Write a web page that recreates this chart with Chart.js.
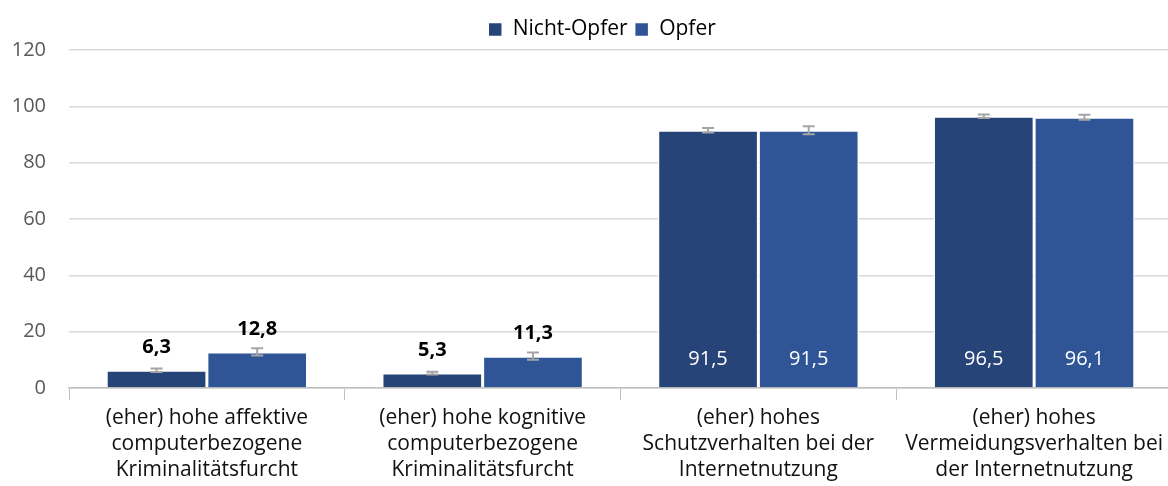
<!DOCTYPE html>
<html>
<head>
<meta charset="utf-8">
<script src="https://cdn.jsdelivr.net/npm/chart.js@4"></script>
<style>
  html, body { margin: 0; padding: 0; background: #fff; overflow: hidden; }
  #wrap { width: 1176px; height: 486px; }
</style>
</head>
<body>
<div id="wrap"><canvas id="c"></canvas></div>
<script>
// categories (multi-line labels)
const categories = [
    ['(eher) hohe affektive', 'computerbezogene', 'Kriminalitätsfurcht'],
    ['(eher) hohe kognitive', 'computerbezogene', 'Kriminalitätsfurcht'],
    ['(eher) hohes', 'Schutzverhalten bei der', 'Internetnutzung'],
    ['(eher) hohes', 'Vermeidungsverhalten bei', 'der Internetnutzung']
];
const seriesNames = ['Nicht-Opfer', 'Opfer'];
const nichtOpfer = [6.3, 5.3, 91.5, 96.5];
const opfer = [12.8, 11.3, 91.5, 96.1];
// half-length of the error bars (estimated)
const nichtOpferErr = [0.6, 0.5, 0.8, 0.6];
const opferErr = [1.3, 1.3, 1.4, 0.9];
const yTicks = [0, 20, 40, 60, 80, 100, 120];

const FONT = '"Open Sans", Lato, sans-serif';
const fmt = v => v.toFixed(1).replace('.', ',');

// draws error bars and value labels from the data
const barExtras = {
    id: 'barExtras',
    afterLayout(chart) {
        // legend sits a bit right of the canvas centre in the original
        if (chart.legend) {
            chart.legend.left += 16;
            chart.legend.right += 16;
        }
    },
    afterDatasetsDraw(chart) {
        const ctx = chart.ctx;
        const y = chart.scales.y;
        const errs = [nichtOpferErr, opferErr];
        chart.data.datasets.forEach((ds, di) => {
            const meta = chart.getDatasetMeta(di);
            meta.data.forEach((bar, i) => {
                const v = ds.data[i];
                const e = errs[di][i];
                const yHi = y.getPixelForValue(v + e);
                const yLo = y.getPixelForValue(v - e);
                ctx.save();
                ctx.strokeStyle = '#A5A5A5';
                ctx.lineWidth = 2;
                ctx.beginPath();
                ctx.moveTo(bar.x, yHi); ctx.lineTo(bar.x, yLo);
                ctx.moveTo(bar.x - 6, yHi); ctx.lineTo(bar.x + 6, yHi);
                ctx.moveTo(bar.x - 6, yLo); ctx.lineTo(bar.x + 6, yLo);
                ctx.stroke();

                ctx.textAlign = 'center';
                ctx.textBaseline = 'middle';
                if (v < 50) {
                    ctx.fillStyle = '#000';
                    ctx.font = 'bold 20px ' + FONT;
                    ctx.fillText(fmt(v), bar.x, bar.y - 23);
                } else {
                    ctx.fillStyle = '#fff';
                    ctx.font = '20px ' + FONT;
                    ctx.fillText(fmt(v), bar.x, bar.base - 28);
                }
                ctx.restore();
            });
        });
    }
};

new Chart(document.getElementById('c'), {
    type: 'bar',
    data: {
        labels: categories,
        datasets: [
            {
                label: seriesNames[0],
                data: nichtOpfer,
                backgroundColor: '#264478',
                borderColor: '#ffffff',
                borderWidth: 1.5,
                categoryPercentage: 0.73,
                barPercentage: 1
            },
            {
                label: seriesNames[1],
                data: opfer,
                backgroundColor: '#2F5597',
                borderColor: '#ffffff',
                borderWidth: 1.5,
                categoryPercentage: 0.73,
                barPercentage: 1
            }
        ]
    },
    options: {
        responsive: true,
        maintainAspectRatio: false,
        animation: false,
        layout: { padding: { top: 12, right: 4, left: 0, bottom: 0 } },
        scales: {
            x: {
                grid: {
                    display: true,
                    drawOnChartArea: false,
                    drawTicks: true,
                    tickLength: 12,
                    color: '#BFBFBF',
                    offset: true
                },
                border: { display: true, color: '#BFBFBF', width: 1.5 },
                ticks: {
                    color: '#111',
                    font: { family: FONT, size: 21, lineHeight: 1.24 },
                    maxRotation: 0,
                    autoSkip: false,
                    padding: 5
                },
                afterFit(scale) { scale.height = 98; }
            },
            y: {
                min: 0,
                max: 120,
                afterBuildTicks(scale) { scale.ticks = yTicks.map(v => ({ value: v })); },
                grid: { color: '#D9D9D9', lineWidth: 1.5, drawTicks: false },
                border: { display: false },
                ticks: {
                    color: '#595959',
                    font: { family: FONT, size: 20 },
                    padding: 23
                },
                afterFit(scale) { scale.width = 69; }
            }
        },
        plugins: {
            legend: {
                position: 'top',
                labels: {
                    color: '#000',
                    font: { family: FONT, size: 21 },
                    boxWidth: 14,
                    boxHeight: 14,
                    padding: 7
                }
            },
            tooltip: { enabled: false }
        }
    },
    plugins: [barExtras]
});
</script>
</body>
</html>
